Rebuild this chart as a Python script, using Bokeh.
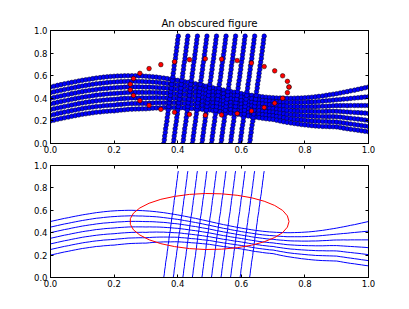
from bokeh.plotting import figure
from bokeh.models import Range1d, LinearAxis, FixedTicker, PrintfTickFormatter
from bokeh.layouts import column
from bokeh.embed import file_html
from bokeh.resources import INLINE

# ---------------- data ----------------
# x positions of the samples along the wavy "horizontal" curves
hx = [0.000, 0.011, 0.022, 0.033, 0.044, 0.056, 0.067, 0.078, 0.089, 0.100,
      0.111, 0.122, 0.133, 0.144, 0.156, 0.167, 0.178, 0.189, 0.200, 0.211,
      0.222, 0.233, 0.244, 0.256, 0.267, 0.278, 0.289, 0.300, 0.311, 0.322,
      0.333, 0.344, 0.356, 0.367, 0.378, 0.389, 0.400, 0.411, 0.422, 0.433,
      0.444, 0.456, 0.467, 0.478, 0.489, 0.500, 0.511, 0.522, 0.533, 0.544,
      0.556, 0.567, 0.578, 0.589, 0.600, 0.611, 0.622, 0.633, 0.644, 0.656,
      0.667, 0.678, 0.689, 0.700, 0.711, 0.722, 0.733, 0.744, 0.756, 0.767,
      0.778, 0.789, 0.800, 0.811, 0.822, 0.833, 0.844, 0.856, 0.867, 0.878,
      0.889, 0.900, 0.911, 0.922, 0.933, 0.944, 0.956, 0.967, 0.978, 0.989,
      1.000]

h0 = [.500, .507, .514, .521, .528, .534, .541, .547, .553, .559,
      .564, .569, .574, .579, .583, .587, .590, .593, .595, .597,
      .598, .599, .600, .600, .599, .598, .597, .595, .593, .590,
      .587, .583, .579, .574, .569, .564, .559, .553, .547, .541,
      .534, .528, .521, .514, .507, .500, .493, .486, .479, .472,
      .466, .459, .453, .447, .441, .436, .431, .426, .421, .417,
      .413, .410, .407, .405, .403, .402, .401, .400, .400, .401,
      .402, .403, .405, .407, .410, .413, .417, .421, .426, .431,
      .436, .441, .447, .453, .459, .466, .472, .479, .486, .493,
      .500]
h1 = [.450, .457, .464, .471, .478, .484, .491, .497, .503, .509,
      .514, .519, .524, .529, .532, .536, .539, .542, .544, .546,
      .548, .549, .550, .551, .550, .549, .549, .547, .546, .544,
      .542, .539, .535, .531, .527, .523, .519, .514, .508, .503,
      .497, .491, .485, .479, .472, .466, .459, .453, .446, .439,
      .434, .427, .421, .416, .410, .405, .400, .395, .390, .385,
      .381, .378, .375, .373, .370, .368, .366, .364, .364, .364,
      .364, .364, .365, .366, .368, .369, .372, .375, .378, .381,
      .384, .387, .390, .393, .395, .399, .402, .405, .408, .411,
      .414]
h2 = [.400, .407, .414, .421, .428, .434, .441, .447, .453, .459,
      .464, .469, .473, .478, .482, .486, .488, .491, .493, .496,
      .497, .499, .501, .501, .501, .501, .500, .499, .499, .498,
      .496, .494, .492, .489, .485, .482, .479, .474, .470, .465,
      .459, .455, .449, .443, .438, .432, .426, .419, .413, .407,
      .401, .395, .390, .384, .379, .374, .369, .363, .358, .354,
      .350, .346, .343, .341, .337, .334, .332, .329, .327, .326,
      .326, .325, .325, .325, .326, .326, .327, .329, .330, .332,
      .334, .335, .335, .336, .335, .336, .336, .336, .336, .336,
      .336]
h3 = [.350, .357, .364, .371, .378, .384, .391, .397, .403, .409,
      .414, .418, .423, .428, .431, .435, .438, .440, .442, .445,
      .447, .449, .451, .452, .452, .452, .452, .451, .452, .451,
      .451, .450, .448, .446, .444, .441, .439, .435, .431, .427,
      .422, .418, .413, .408, .403, .398, .392, .386, .380, .374,
      .369, .363, .358, .353, .348, .343, .337, .332, .327, .322,
      .318, .315, .311, .309, .304, .301, .297, .293, .291, .289,
      .287, .286, .285, .284, .284, .283, .283, .283, .284, .285,
      .285, .285, .283, .281, .279, .277, .275, .273, .271, .269,
      .266]
h4 = [.300, .307, .314, .321, .328, .334, .341, .347, .353, .359,
      .364, .368, .373, .377, .381, .384, .387, .389, .391, .394,
      .397, .399, .401, .403, .403, .403, .404, .403, .405, .405,
      .406, .405, .405, .403, .402, .400, .399, .396, .392, .389,
      .385, .381, .377, .373, .368, .364, .358, .353, .347, .341,
      .337, .331, .326, .322, .317, .312, .306, .301, .295, .291,
      .286, .283, .279, .277, .271, .267, .262, .258, .254, .252,
      .249, .247, .245, .243, .242, .240, .239, .239, .238, .238,
      .238, .237, .234, .230, .226, .223, .219, .216, .212, .208,
      .204]
h5 = [.250, .257, .264, .271, .278, .284, .291, .297, .303, .309,
      .314, .318, .323, .327, .330, .334, .336, .338, .340, .344,
      .346, .349, .352, .353, .354, .355, .355, .355, .357, .359,
      .360, .361, .361, .361, .360, .360, .359, .356, .354, .351,
      .347, .345, .341, .337, .334, .330, .325, .319, .314, .309,
      .304, .299, .295, .290, .286, .280, .275, .269, .264, .259,
      .255, .251, .247, .245, .239, .233, .228, .222, .218, .214,
      .211, .208, .205, .202, .200, .197, .196, .195, .194, .193,
      .192, .191, .186, .182, .177, .173, .168, .164, .159, .155,
      .150]
h6 = [.200, .207, .214, .221, .228, .234, .241, .247, .253, .259,
      .263, .268, .272, .277, .279, .283, .285, .288, .289, .293,
      .296, .299, .302, .304, .305, .306, .307, .307, .310, .313,
      .315, .316, .318, .318, .318, .319, .319, .317, .315, .313,
      .310, .308, .305, .302, .299, .296, .291, .286, .281, .276,
      .272, .267, .263, .259, .255, .249, .244, .238, .232, .228,
      .223, .219, .216, .213, .206, .199, .193, .187, .182, .177,
      .173, .168, .165, .161, .158, .155, .153, .151, .150, .149,
      .148, .147, .142, .136, .131, .126, .122, .117, .113, .108,
      .104]
h_curves = [h0, h1, h2, h3, h4, h5, h6]

# y positions of the samples along the slanted "vertical" lines
vy = [0.000, 0.033, 0.066, 0.098, 0.131, 0.164, 0.197, 0.229, 0.262, 0.295,
      0.328, 0.360, 0.393, 0.426, 0.459, 0.491, 0.524, 0.557, 0.590, 0.622,
      0.655, 0.688, 0.721, 0.753, 0.786, 0.819, 0.852, 0.884, 0.917, 0.950]
v0 = [.356, .358, .359, .361, .362, .364, .366, .367, .369, .370, .372, .373, .375, .377, .378,
      .380, .381, .383, .385, .386, .388, .389, .391, .393, .394, .396, .397, .399, .400, .402]
v1 = [.386, .388, .389, .391, .392, .394, .396, .397, .399, .400, .402, .403, .405, .407, .408,
      .410, .411, .413, .415, .416, .418, .419, .421, .423, .424, .426, .427, .429, .430, .432]
v2 = [.416, .418, .419, .421, .422, .424, .426, .427, .429, .430, .432, .433, .435, .437, .438,
      .440, .441, .443, .445, .446, .448, .449, .451, .453, .454, .456, .457, .459, .460, .462]
v3 = [.446, .448, .449, .451, .452, .454, .456, .457, .459, .460, .462, .463, .465, .467, .468,
      .470, .471, .473, .475, .476, .478, .479, .481, .483, .484, .486, .487, .489, .490, .492]
v4 = [.476, .478, .479, .481, .482, .484, .486, .487, .489, .490, .492, .493, .495, .497, .498,
      .500, .501, .503, .505, .506, .508, .509, .511, .513, .514, .516, .517, .519, .520, .522]
v5 = [.506, .508, .509, .511, .512, .514, .516, .517, .519, .520, .522, .523, .525, .527, .528,
      .530, .531, .533, .535, .536, .538, .539, .541, .543, .544, .546, .547, .549, .550, .552]
v6 = [.536, .538, .539, .541, .542, .544, .546, .547, .549, .550, .552, .553, .555, .557, .558,
      .560, .561, .563, .565, .566, .568, .569, .571, .573, .574, .576, .577, .579, .580, .582]
v7 = [.566, .568, .569, .571, .572, .574, .576, .577, .579, .580, .582, .583, .585, .587, .588,
      .590, .591, .593, .595, .596, .598, .599, .601, .603, .604, .606, .607, .609, .610, .612]
v8 = [.596, .598, .599, .601, .602, .604, .606, .607, .609, .610, .612, .613, .615, .617, .618,
      .620, .621, .623, .625, .626, .628, .629, .631, .633, .634, .636, .637, .639, .640, .642]
v9 = [.626, .628, .629, .631, .632, .634, .636, .637, .639, .640, .642, .643, .645, .647, .648,
      .650, .651, .653, .655, .656, .658, .659, .661, .663, .664, .666, .667, .669, .670, .672]
v_lines = [v0, v1, v2, v3, v4, v5, v6, v7, v8, v9]

# red ellipse (circle in data units) points
ex = [0.750, 0.745, 0.730, 0.705, 0.672, 0.632, 0.587, 0.538, 0.487, 0.437, 0.390,
      0.347, 0.310, 0.281, 0.261, 0.251, 0.251, 0.261, 0.281, 0.310, 0.347, 0.390,
      0.437, 0.487, 0.538, 0.587, 0.632, 0.672, 0.705, 0.730, 0.745, 0.750]
ey = [0.500, 0.550, 0.599, 0.643, 0.681, 0.712, 0.734, 0.747, 0.750, 0.742, 0.724,
      0.698, 0.663, 0.621, 0.575, 0.525, 0.475, 0.425, 0.379, 0.337, 0.302, 0.276,
      0.258, 0.250, 0.253, 0.266, 0.288, 0.319, 0.357, 0.401, 0.450, 0.500]

ticks = [0.0, 0.2, 0.4, 0.6, 0.8, 1.0]
title_text = "An obscured figure"

FONT = "DejaVu Sans"


def style_axis(ax, labels=True):
    ax.ticker = FixedTicker(ticks=ticks)
    ax.formatter = PrintfTickFormatter(format="%.1f")
    ax.major_tick_in = 3
    ax.major_tick_out = 0
    ax.minor_tick_line_color = None
    ax.major_tick_line_color = "black"
    ax.axis_line_color = "black"
    ax.axis_line_width = 1
    ax.major_label_text_font = FONT
    if labels:
        ax.major_label_text_color = "black"
        ax.major_label_text_font_size = "8.5px"
        ax.major_label_standoff = 3
    else:
        ax.major_label_text_color = None
        ax.major_label_text_font_size = "1px"
        ax.major_label_standoff = 0


def make_fig(top_border, bottom_border, frame_h):
    p = figure(frame_width=318, frame_height=frame_h,
               x_range=Range1d(0, 1), y_range=Range1d(0, 1),
               output_backend="svg", toolbar_location=None,
               min_border_left=50, min_border_right=20,
               min_border_top=top_border, min_border_bottom=bottom_border)
    p.grid.visible = False
    p.outline_line_color = "black"
    p.background_fill_color = "white"
    p.border_fill_color = "white"
    style_axis(p.xaxis[0])
    style_axis(p.yaxis[0])
    p.xaxis[0].major_label_standoff = 2
    ax_r = LinearAxis()
    ax_t = LinearAxis()
    style_axis(ax_r, labels=False)
    style_axis(ax_t, labels=False)
    p.add_layout(ax_r, "right")
    p.add_layout(ax_t, "above")
    return p


MS = 4.6
EW = 0.5

# ---------------- top panel: markers ----------------
p1 = make_fig(30, 14, 113)
p1.title.text = title_text
p1.title.align = "center"
p1.title.text_font = FONT
p1.title.text_font_size = "10.2px"
p1.title.text_font_style = "normal"
p1.title.text_color = "black"
p1.title.standoff = 4

for hc in h_curves:
    p1.scatter(hx, hc, size=MS, fill_color="blue", line_color="#000022", line_width=EW)
for vc in v_lines:
    p1.scatter(vc, vy, size=MS, fill_color="blue", line_color="#000022", line_width=EW)
p1.scatter(ex, ey, size=MS, fill_color="red", line_color="black", line_width=EW)

# ---------------- bottom panel: lines ----------------
p2 = make_fig(8, 14, 112)
for hc in h_curves:
    p2.line(hx, hc, line_color="blue", line_width=1)
for vc in v_lines:
    p2.line(vc, vy, line_color="blue", line_width=1)
p2.line(ex, ey, line_color="red", line_width=1)

layout = column(p1, p2, spacing=0)
open("out.html", "w").write(file_html(layout, INLINE))
